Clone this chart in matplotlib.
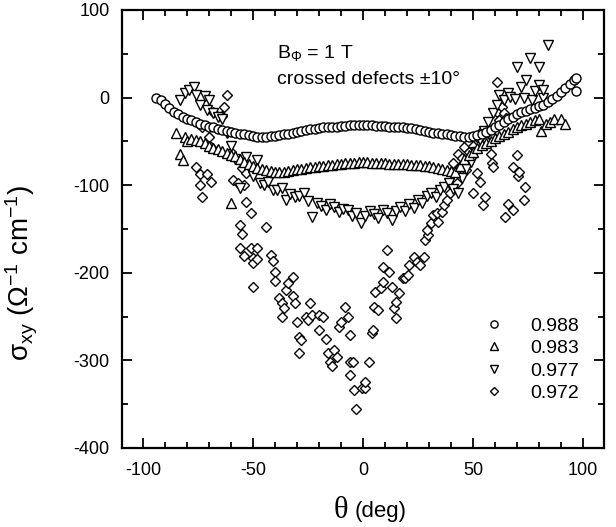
import numpy as np
import matplotlib
matplotlib.use("Agg")
import matplotlib.pyplot as plt
from matplotlib.ticker import MultipleLocator

plt.rcParams['font.family'] = ['Liberation Sans', 'DejaVu Sans']
plt.rcParams['mathtext.fontset'] = 'custom'
plt.rcParams['mathtext.rm'] = 'Liberation Sans'
plt.rcParams['mathtext.it'] = 'Liberation Sans'
plt.rcParams['mathtext.default'] = 'regular'
plt.rcParams['axes.unicode_minus'] = False

# ---- data (theta in deg, sigma_xy in 1/(Ohm cm)) ----
labels = ['0.988', '0.983', '0.977', '0.972']

x988 = [-94, -92, -90, -88, -86, -84, -82, -80, -78, -76,
        -74, -72, -70, -68, -66, -64, -62, -60, -58, -56,
        -54, -52, -50, -48, -46, -44, -42, -40, -38, -36,
        -34, -32, -30, -28, -26, -24, -22, -20, -18, -16,
        -14, -12, -10, -8, -6, -4, -2, 0, 2, 4,
        6, 8, 10, 12, 14, 16, 18, 20, 22, 24,
        26, 28, 30, 32, 34, 36, 38, 40, 42, 44,
        46, 48, 50, 52, 54, 56, 58, 60, 62, 64,
        66, 68, 70, 72, 74, 76, 78, 80, 82, 84,
        86, 88, 90, 92, 94, 96, 97, 97]
y988 = [0, -3, -7, -12, -16, -19, -22, -24, -26, -28,
        -30, -31, -33, -34, -36, -37, -38, -39, -40, -41,
        -42, -43, -44, -45, -45, -45, -44, -44, -43, -42,
        -41, -40, -39, -38, -37, -36, -36, -35, -34, -34,
        -33, -33, -32, -32, -31, -31, -31, -31, -31, -31,
        -32, -32, -32, -33, -33, -34, -34, -35, -35, -36,
        -37, -38, -39, -40, -40, -41, -42, -43, -44, -44,
        -45, -45, -44, -43, -41, -39, -37, -34, -31, -28,
        -25, -22, -19, -17, -15, -13, -12, -10, -8, -5,
        -2, 2, 6, 11, 16, 20, 22, 8]

x983 = [-85, -83, -82, -81, -80, -78, -76, -74, -72, -70,
        -68, -66, -64, -62, -60, -58, -56, -54, -52, -50,
        -48, -46, -44, -42, -40, -38, -36, -34, -32, -30,
        -28, -26, -24, -22, -20, -18, -16, -14, -12, -10,
        -8, -6, -4, -2, 0, 2, 4, 6, 8, 10,
        12, 14, 16, 18, 20, 22, 24, 26, 28, 30,
        32, 34, 36, 38, 40, 42, 44, 46, 48, 50,
        52, 54, 56, 58, 60, 62, 64, 66, 68, 70,
        72, 74, 76, 78, 80, 81, 83, 85, 87, 90,
        92, -60]
y983 = [-40, -64, -71, -45, -50, -47, -48, -49, -52, -55,
        -57, -59, -61, -63, -65, -67, -70, -73, -76, -78,
        -80, -82, -83, -84, -85, -85, -85, -84, -83, -82,
        -81, -80, -79, -79, -78, -78, -77, -77, -76, -76,
        -75, -75, -75, -74, -74, -74, -75, -75, -75, -75,
        -76, -76, -76, -76, -76, -77, -77, -77, -78, -78,
        -79, -80, -81, -83, -84, -85, -78, -70, -66, -62,
        -58, -54, -52, -49, -46, -44, -42, -39, -36, -33,
        -31, -30, -28, -26, -25, -38, -30, -28, -25, -24,
        -30, -120]

x977 = [-83, -81, -79, -77, -76, -74, -72, -71, -70, -68,
        -66, -64, -62, -60, -58, -56, -53, -50, -48, -47,
        -45, -43, -41, -39, -37, -35, -33, -31, -29, -27,
        -25, -23, -21, -19, -17, -15, -13, -11, -9, -7,
        -5, -3, -1, 1, 3, 5, 7, 9, 11, 13,
        15, 17, 19, 21, 23, 25, 27, 29, 31, 33,
        35, 37, 39, 41, 43, 45, 47, 49, 51, 53,
        55, 57, 59, 61, 62, 64, 66, 67, 69, 70,
        72, 73, 74, 76, 77, 78, 80, 80, 82, 82,
        84]
y977 = [-3, 5, 9, 12, 3, -9, 2, -14, -3, -18,
        -22, -25, -40, -55, -70, -103, -68, -90, -71, -98,
        -100, -96, -106, -106, -103, -117, -110, -113, -112, -109,
        -118, -136, -120, -124, -128, -122, -125, -131, -127, -128,
        -135, -132, -143, -135, -130, -133, -137, -128, -132, -140,
        -130, -125, -130, -122, -126, -117, -120, -112, -109, -113,
        -106, -102, -98, -104, -109, -92, -82, -74, -62, -48,
        -38, -28, -18, -8, 3, -3, 5, 1, -2, 35,
        12, -1, 20, 45, -3, 8, 35, 14, -1, 9,
        60]

x972 = [-76, -74, -73, -71, -70, -69, -69, -68, -64, -63,
        -62, -60, -59, -57, -57, -55, -54, -53, -53, -51,
        -56, -55, -56, -54, -51, -48, -50, -50, -48, -50,
        -44, -42, -41, -40, -40, -38, -37, -36, -37, -35,
        -34, -32, -32, -31, -30, -29, -28, -29, -26, -25,
        -24, -23, -20, -20, -18, -17, -16, -15, -14, -13,
        -12, -11, -10, -8, -7, -6, -6, -6, -4.5, -4,
        -3, -0.5, 1, 1, 2.5, 4, 4.5, 5, 7, 5.5,
        8, 9, 9, 11, 12, 13, 14, 15, 15, 16.5,
        18, 19, 20.5, 21, 23, 24.5, 26, 27.5, 28, 29.5,
        29, 31, 32, 33.5, 34, 36, 37, 38, 39.5, 40.5,
        42.5, 41, 43, 44, 45, 46, 47, 48, 50, 50,
        52, 52, 53, 54, 54.5, 55.5, 56, 58, 58.5, 59,
        59, 61, 61, 62, 63, 64, 65, 64.5, 66, 68,
        68, 70, 70.5, 71, 73, 73.5, -73, -74]
y972 = [-79, -87, -113, -87, -45, -96, -56, -16, -21, -11,
        3, -62, -94, -70, -98, -80, -100, -86, -119, -132,
        -146, -156, -172, -181, -172, -172, -183, -189, -184, -216,
        -148, -180, -186, -199, -209, -229, -235, -240, -250, -220,
        -212, -205, -227, -235, -256, -273, -277, -292, -250, -254,
        -235, -248, -248, -265, -250, -276, -292, -302, -306, -288,
        -296, -262, -256, -239, -250, -271, -302, -317, -302, -334,
        -356, -332, -332, -325, -302, -269, -265, -239, -243, -222,
        -217, -210, -193, -174, -199, -216, -240, -252, -233, -223,
        -206, -206, -203, -191, -182, -188, -191, -182, -163, -157,
        -151, -143, -134, -132, -142, -131, -123, -117, -109, -100,
        -98, -75, -64, -79, -69, -56, -83, -62, -109, -55,
        -86, -45, -96, -38, -123, -113, -49, -64, -75, -79,
        -45, 18, -16, -26, -11, -18, -23, -136, -121, -128,
        -79, -66, -89, -85, -117, -102, -33, -100]

series = [
    (x988, y988, 'o', 6.5),
    (x983, y983, '^', 7.0),
    (x977, y977, 'v', 7.0),
    (x972, y972, 'D', 5.0),
]

fig = plt.figure(figsize=(6.16, 5.27), dpi=100)
ax = fig.add_axes([122 / 616, 79 / 527, 482 / 616, 438 / 527])

handles = []
for (xs, ys, mk, ms), lab in zip(series[::-1], labels[::-1]):
    h, = ax.plot(xs, ys, linestyle='none', marker=mk, markersize=ms,
                 markerfacecolor='white', markeredgecolor='black',
                 markeredgewidth=1.0, label=lab)
    handles.append(h)
handles = handles[::-1]

ax.set_xlim(-109.5, 109.5)
ax.set_ylim(-400, 100)
ax.xaxis.set_major_locator(MultipleLocator(50))
ax.xaxis.set_minor_locator(MultipleLocator(10))
ax.yaxis.set_major_locator(MultipleLocator(100))
ax.yaxis.set_minor_locator(MultipleLocator(50))
ax.tick_params(which='both', direction='in', top=True, right=True,
               labelsize=13, width=1.3)
ax.tick_params(which='major', length=7)
ax.tick_params(which='minor', length=4)
ax.tick_params(axis='y', pad=9)
ax.tick_params(axis='x', pad=10)
for sp in ax.spines.values():
    sp.set_linewidth(1.6)

ax.set_ylabel(r'$\sigma_{xy}$ ($\Omega^{-1}$ cm$^{-1}$)', fontsize=20)
ax.yaxis.set_label_coords(-0.17, 0.40)

fig.text(341 / 616, 1 - 511 / 527, '\u03b8', fontsize=22, ha='center',
         va='center', family=['Liberation Serif', 'DejaVu Serif'])
fig.text(355 / 616, 1 - 512 / 527, '(deg)', fontsize=16, ha='left',
         va='center')

ax.text(0.322, 0.925, r'B$_\Phi$ = 1 T', transform=ax.transAxes,
        fontsize=14, va='top', ha='left')
ax.text(0.322, 0.86, 'crossed defects \u00b110\u00b0', transform=ax.transAxes,
        fontsize=14, va='top', ha='left')

leg = ax.legend(handles=handles, loc='lower right', frameon=False,
                bbox_to_anchor=(0.985, 0.065), fontsize=14, handlelength=1.2,
                handletextpad=1.3, labelspacing=0.25, markerscale=0.8)

fig.savefig('out.png', dpi=100)
